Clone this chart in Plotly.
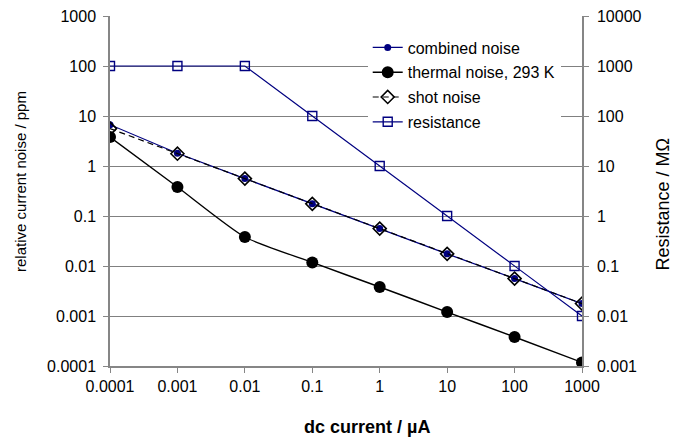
import plotly.graph_objects as go

current = [1e-4, 1e-3, 1e-2, 0.1, 1, 10, 100, 1000]
combined_noise = [6.7, 1.8, 0.56, 0.175, 0.056, 0.0175, 0.0056, 0.00177]
thermal_noise = [3.8, 0.38, 0.038, 0.0118, 0.0038, 0.0012, 0.00038, 0.000118]
shot_noise = [5.6, 1.76, 0.56, 0.175, 0.056, 0.0175, 0.0056, 0.00177]
resistance = [1000, 1000, 1000, 100, 10, 1, 0.1, 0.01]

x_tickvals = [1e-4, 1e-3, 1e-2, 0.1, 1, 10, 100, 1000]
x_ticktext = ["0.0001", "0.001", "0.01", "0.1", "1", "10", "100", "1000"]
y_tickvals = [1e-4, 1e-3, 1e-2, 0.1, 1, 10, 100, 1000]
y_ticktext = ["0.0001", "0.001", "0.01", "0.1", "1", "10", "100", "1000"]
y2_tickvals = [1e-3, 1e-2, 0.1, 1, 10, 100, 1000, 10000]
y2_ticktext = ["0.001", "0.01", "0.1", "1", "10", "100", "1000", "10000"]

FONT = "Liberation Sans, Arial, sans-serif"
NAVY = "#000080"

fig = go.Figure()
fig.add_trace(go.Scatter(
    x=current, y=combined_noise, name="combined noise", mode="lines+markers",
    line=dict(color=NAVY, width=1.2),
    marker=dict(symbol="circle", size=7, color=NAVY),
    legendgroup="a"))
fig.add_trace(go.Scatter(
    x=current, y=thermal_noise, name="thermal noise, 293 K", mode="lines+markers",
    line=dict(color="black", width=1.4, shape="spline", smoothing=0.6),
    marker=dict(symbol="circle", size=12, color="black"),
    legendgroup="b"))
fig.add_trace(go.Scatter(
    x=current, y=shot_noise, name="shot noise", mode="lines+markers",
    line=dict(color="black", width=1.2, dash="6px,4px"),
    marker=dict(symbol="diamond-open", size=10, color="black", line=dict(width=1.6)),
    legendgroup="c"))
fig.add_trace(go.Scatter(
    x=current, y=resistance, name="resistance", mode="lines+markers", yaxis="y2",
    line=dict(color=NAVY, width=1.2),
    marker=dict(symbol="square-open", size=9, color=NAVY, line=dict(width=1.4)),
    legendgroup="d"))

axis_common = dict(
    showline=True, linecolor="#868686", linewidth=1.5,
    ticks="outside", ticklen=5, tickcolor="#868686", tickwidth=1.2,
    tickfont=dict(family=FONT, size=16, color="black"),
    zeroline=False, ticklabeloverflow="allow", automargin=False,
)

fig.update_layout(
    width=674, height=430,
    margin=dict(l=102, r=100, t=8, b=72, autoexpand=False),
    paper_bgcolor="white", plot_bgcolor="white",
    font=dict(family=FONT, color="black"),
    xaxis=dict(type="log", range=[-4, 3], tickvals=x_tickvals, ticktext=x_ticktext,
               showgrid=False, **axis_common),
    yaxis=dict(type="log", range=[-4, 3], tickvals=y_tickvals, ticktext=y_ticktext,
               showgrid=True, gridcolor="#808080", gridwidth=1,
               ticklabelstandoff=4, **axis_common),
    yaxis2=dict(type="log", range=[-3, 4], tickvals=y2_tickvals, ticktext=y2_ticktext,
                overlaying="y", side="right", showgrid=False,
                ticklabelstandoff=5, **axis_common),
    legend=dict(x=0.546, y=0.9586, xanchor="left", yanchor="top",
                bgcolor="white", borderwidth=0, itemwidth=30,
                tracegroupgap=1,
                font=dict(family=FONT, size=16, color="black")),
    showlegend=True,
    annotations=[
        dict(text="<b>dc current / µA</b>", xref="paper", yref="paper", x=0.545, y=-0.174,
             showarrow=False, font=dict(family=FONT, size=18, color="black"),
             xanchor="center", yanchor="middle"),
        dict(text="relative current noise / ppm", xref="paper", yref="paper",
             x=-0.1886, y=0.5286, textangle=-90, showarrow=False,
             font=dict(family=FONT, size=15, color="black"),
             xanchor="center", yanchor="middle"),
        dict(text="Resistance / MΩ", xref="paper", yref="paper",
             x=1.1716, y=0.464, textangle=-90, showarrow=False,
             font=dict(family=FONT, size=18, color="black"),
             xanchor="center", yanchor="middle"),
    ],
    shapes=[
        dict(type="line", xref="paper", yref="paper", x0=1.1970, x1=1.1970,
             y0=-0.2057, y1=1.0457, line=dict(color="#a8a8a8", width=1.5)),
    ],
)

fig.write_html("out.html")
